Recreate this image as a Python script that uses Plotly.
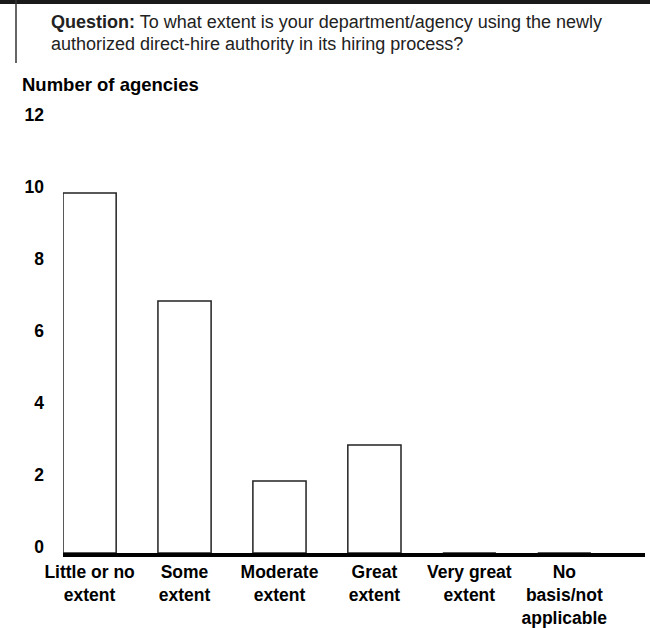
import plotly.graph_objects as go

categories = ["Little or no<br>extent", "Some<br>extent", "Moderate<br>extent",
              "Great<br>extent", "Very great<br>extent", "No<br>basis/not<br>applicable"]
values = [10, 7, 2, 3, 0, 0]
y_ticks = [0, 2, 4, 6, 8, 10, 12]

W, H = 650, 628
L, R, T, B = 63, 5, 121, 75
PW, PH = W - L - R, H - T - B

def px(x):
    return (x - L) / PW

def py(y):
    return (H - B - y) / PH

FONT = "Liberation Sans, Arial, Helvetica, sans-serif"

fig = go.Figure()
fig.add_trace(go.Bar(
    x=categories, y=values, width=0.56,
    marker=dict(color="white", line=dict(color="#222222", width=1.5)),
))

fig.update_layout(
    template="none",
    width=W, height=H,
    margin=dict(l=L, r=R, t=T, b=B, autoexpand=False),
    paper_bgcolor="white", plot_bgcolor="white",
    showlegend=False,
    font=dict(family=FONT, color="black"),
    xaxis=dict(
        type="category",
        range=[-0.28, 5.85],
        automargin=False,
        showline=True, linecolor="black", linewidth=4,
        showgrid=False, zeroline=False, ticks="",
        tickfont=dict(family=FONT, size=17.5, color="black", weight="bold"),
        tickangle=0,
    ),
    yaxis=dict(
        range=[0, 12],
        automargin=False,
        tickmode="array",
        tickvals=y_ticks,
        ticktext=[f"<b>{v}</b>" for v in y_ticks],
        showline=False, showgrid=False, zeroline=False, ticks="",
        tickfont=dict(family=FONT, size=17.5, color="black", weight="bold"),
        ticklabelstandoff=18,
        ticklabelshift=-6,
    ),
)

# header box
fig.add_shape(type="rect", xref="paper", yref="paper",
              x0=px(0), x1=px(W), y0=py(4), y1=py(0),
              fillcolor="#1a1a1a", line=dict(width=0), layer="above")
fig.add_shape(type="line", xref="paper", yref="paper",
              x0=px(16), x1=px(16), y0=py(63), y1=py(0),
              line=dict(color="#333333", width=1.5))

fig.add_annotation(xref="paper", yref="paper", x=px(49), y=py(22),
                   xanchor="left", yanchor="middle", showarrow=False,
                   text="<b>Question:</b> To what extent is your department/agency using the newly",
                   font=dict(family=FONT, size=18, color="#222222"))
fig.add_annotation(xref="paper", yref="paper", x=px(49), y=py(44),
                   xanchor="left", yanchor="middle", showarrow=False,
                   text="authorized direct-hire authority in its hiring process?",
                   font=dict(family=FONT, size=18, color="#222222"))
fig.add_annotation(xref="paper", yref="paper", x=px(20), y=py(84),
                   xanchor="left", yanchor="middle", showarrow=False,
                   text="<b>Number of agencies</b>",
                   font=dict(family=FONT, size=18.5, color="black"))

fig.write_html("out.html", config={"displayModeBar": False},
               post_script="document.body.style.margin='0';")
